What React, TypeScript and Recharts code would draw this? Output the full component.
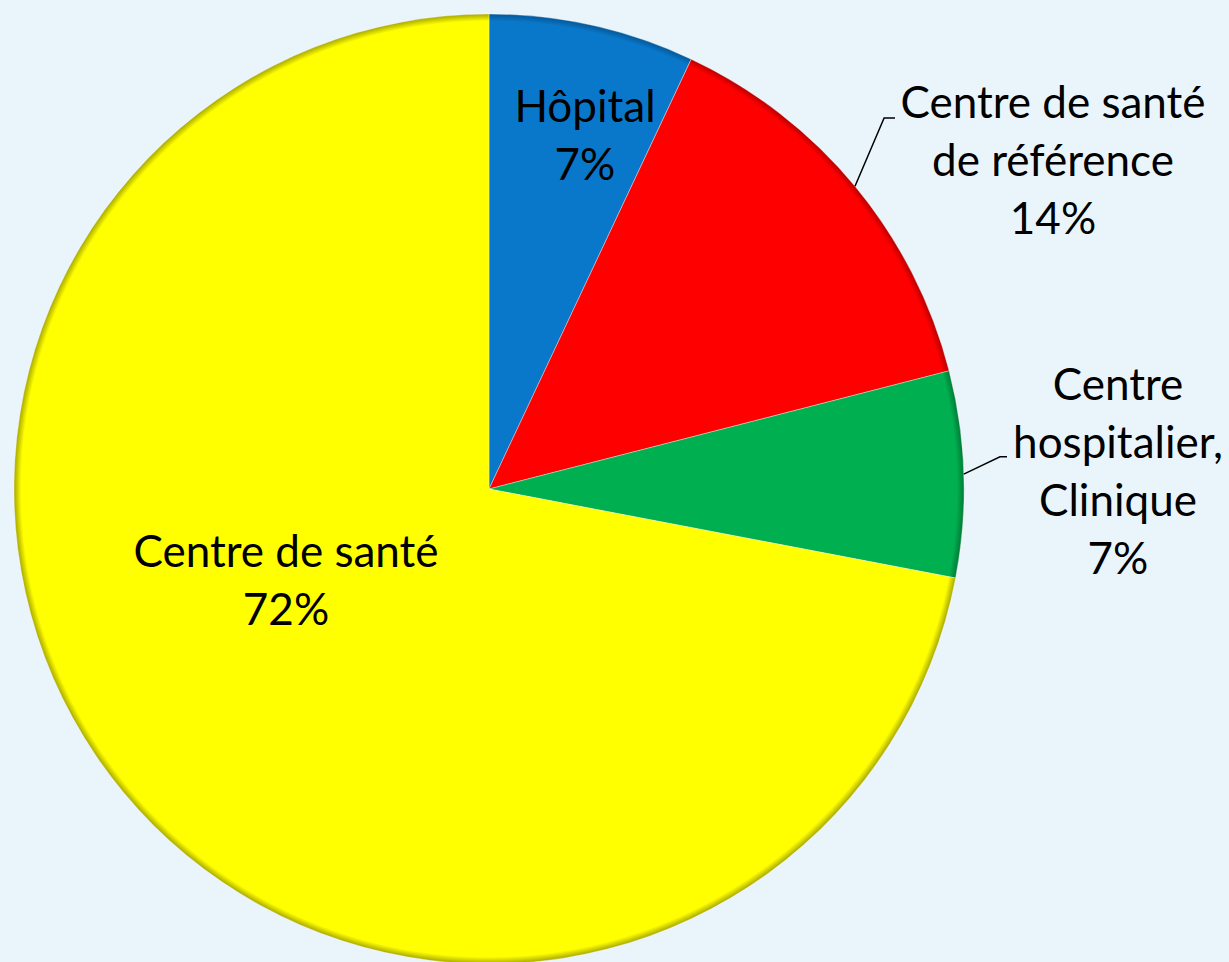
import { PieChart, Pie, Cell } from 'recharts';

const categories = ['Hôpital', 'Centre de santé de référence', 'Centre hospitalier, Clinique', 'Centre de santé'];
const percents = [7, 14, 7, 72];
const colors = ['#0A78CA', '#FF0000', '#00B050', '#FFFF00'];
const rimColors = ['#045898', '#B80000', '#007A36', '#A8A800'];
// label text lines, as drawn
const labelLines = [
  ['Hôpital', '7%'],
  ['Centre de santé', 'de référence', '14%'],
  ['Centre', 'hospitalier,', 'Clinique', '7%'],
  ['Centre de santé', '72%'],
];

const data = categories.map((name, i) => ({ name, value: percents[i] }));

// first-baseline offset of each label from the pie centre
const labelOffset = [
  [96, -367],
  [564, -371],
  [629, -89],
  [-203, 78],
];
const leader = [null, { r: 542, x2: 406 }, { r: 512, x2: 518 }, null];

const RADIAN = Math.PI / 180;
const FONT = 'Lato, "Noto Sans", sans-serif';
const LINE_H = 58;

function renderLabel(props: any) {
  const { cx, cy, midAngle, outerRadius, index } = props;
  const [ox, oy] = labelOffset[index];
  const lines = labelLines[index];
  const ld = leader[index];
  let path = null;
  if (ld) {
    const sx = cx + outerRadius * Math.cos(-midAngle * RADIAN);
    const sy = cy + outerRadius * Math.sin(-midAngle * RADIAN);
    const ang = midAngle + (index === 1 ? 3.6 : 1.8);
    const ex = cx + ld.r * Math.cos(-ang * RADIAN);
    const ey = cy + ld.r * Math.sin(-ang * RADIAN);
    path = (
      <path
        d={`M${sx},${sy}L${ex},${ey}L${cx + ld.x2},${ey}`}
        stroke="#000"
        strokeWidth={1.5}
        fill="none"
      />
    );
  }
  return (
    <g key={`lab-${index}`}>
      {path}
      <text x={cx + ox} y={cy + oy} textAnchor="middle" fill="#000" fontFamily={FONT} fontSize={44}>
        {lines.map((l, j) => (
          <tspan key={j} x={cx + ox} dy={j === 0 ? 0 : LINE_H}>
            {l}
          </tspan>
        ))}
      </text>
    </g>
  );
}

export default function App() {
  return (
    <div style={{ position: 'fixed', left: 0, top: 0, width: 1229, height: 962, background: '#EAF5FB' }}>
      <PieChart width={1229} height={962} margin={{ top: 0, right: 0, bottom: 0, left: 0 }}>
        <defs>
          {colors.map((c, i) => (
            <radialGradient key={i} id={`g${i}`} cx={489} cy={489} r={475} gradientUnits="userSpaceOnUse">
              <stop offset="0" stopColor={c} />
              <stop offset="0.96" stopColor={c} />
              <stop offset="0.985" stopColor={c} />
              <stop offset="1" stopColor={rimColors[i]} />
            </radialGradient>
          ))}
        </defs>
        <Pie
          data={data}
          dataKey="value"
          nameKey="name"
          cx={489}
          cy={489}
          outerRadius={475}
          startAngle={90}
          endAngle={-270}
          stroke="rgba(255,255,255,0.35)"
          strokeWidth={1}
          label={renderLabel}
          labelLine={false}
          isAnimationActive={false}
        >
          {data.map((d, i) => (
            <Cell key={d.name} fill={`url(#g${i})`} />
          ))}
        </Pie>
      </PieChart>
    </div>
  );
}
